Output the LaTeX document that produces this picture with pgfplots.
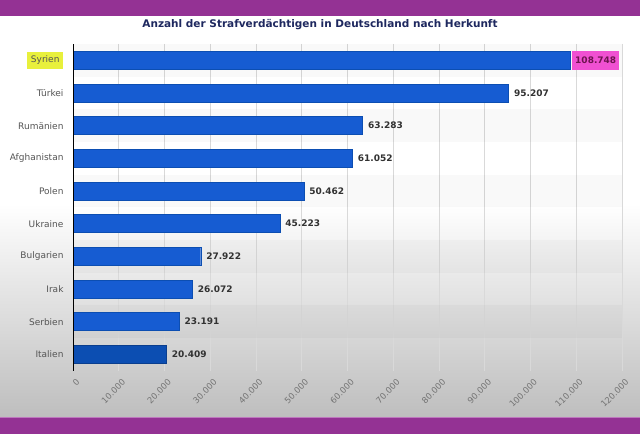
\documentclass[border=0pt]{standalone}
\usepackage{pgfplots}
\pgfplotsset{compat=1.18}
\usepackage{fontspec}
\setmainfont{DejaVu Sans}
\definecolor{purp}{RGB}{148,50,148}
\definecolor{purpl}{RGB}{190,120,190}
\definecolor{navy}{RGB}{30,40,95}
\definecolor{barblue}{RGB}{22,92,210}
\definecolor{bardark}{RGB}{12,78,178}
\definecolor{bggray}{RGB}{190,190,190}
\definecolor{hlyellow}{RGB}{232,240,60}
\definecolor{hlmag}{RGB}{240,80,210}
\definecolor{valtxt}{RGB}{50,50,50}
\definecolor{lbltxt}{RGB}{85,85,85}
\definecolor{ticktxt}{RGB}{115,115,115}
\definecolor{magtxt}{RGB}{110,20,80}
\begin{document}
\begin{tikzpicture}
\useasboundingbox (0pt,0pt) rectangle (640pt,434pt);
\fill[white] (0pt,0pt) rectangle (640pt,434pt);
\shade[top color=white, bottom color=bggray] (0pt,17pt) rectangle (640pt,230pt);
\node[font=\bfseries\fontsize{10.5}{12}\selectfont, text=navy] at (320pt,409pt) {Anzahl der Strafverdächtigen in Deutschland nach Herkunft};
\begin{axis}[
  at={(73pt,63.3pt)}, anchor=south west,
  scale only axis, width=549pt, height=326.7pt,
  xmin=0, xmax=120000, ymin=-0.5, ymax=9.5,
  y dir=reverse,
  xbar, bar width=18pt, bar shift=0pt,
  axis line style={draw=none},
  major tick length=0pt,
  xmajorgrids, grid style={draw=black!15, line width=0.6pt},
  xtick={0,10000,...,120000},
  scaled x ticks=false,
  /pgf/number format/.cd, fixed, precision=0, 1000 sep={.}, assume math mode=true,
  /pgfplots/.cd,
  xticklabel style={rotate=45, anchor=north east, font=\fontsize{8.5}{10}\selectfont, text=ticktxt, xshift=0pt, yshift=-4pt},
  ytick={0,...,9},
  yticklabels={{\setlength{\fboxsep}{4pt}\colorbox{hlyellow}{Syrien}},Türkei,Rumänien,Afghanistan,Polen,Ukraine,Bulgarien,Irak,Serbien,Italien},
  yticklabel style={font=\fontsize{9}{10}\selectfont, text=lbltxt, xshift=-6pt},
  clip=false,
  nodes near coords,
  nodes near coords style={font=\bfseries\fontsize{9}{10}\selectfont, text=valtxt, xshift=2pt},
]
\fill[black, opacity=0.025] (axis cs:0,-0.5) rectangle (axis cs:120000,0.5);
\fill[black, opacity=0.025] (axis cs:0,1.5) rectangle (axis cs:120000,2.5);
\fill[black, opacity=0.025] (axis cs:0,3.5) rectangle (axis cs:120000,4.5);
\fill[black, opacity=0.025] (axis cs:0,5.5) rectangle (axis cs:120000,6.5);
\fill[black, opacity=0.025] (axis cs:0,7.5) rectangle (axis cs:120000,8.5);
\addplot[fill=barblue, draw=bardark, line width=0.4pt,
  nodes near coords style={fill=hlmag, text=magtxt, inner xsep=3pt, inner ysep=6pt, xshift=-0.5pt}]
  coordinates {(108748,0)};
\addplot[fill=barblue, draw=bardark, line width=0.4pt]
  coordinates {(95207,1) (63283,2) (61052,3) (50462,4) (45223,5) (27922,6) (26072,7) (23191,8)};
\addplot[fill=bardark, draw=bardark!80!black, line width=0.4pt]
  coordinates {(20409,9)};
\draw[black, line width=0.8pt] (rel axis cs:0,0) -- (rel axis cs:0,1);
\end{axis}
\fill[purp] (0pt,418pt) rectangle (640pt,434pt);
\fill[purp] (0pt,0pt) rectangle (640pt,17pt);
\fill[purpl] (0pt,16pt) rectangle (640pt,17.5pt);
\end{tikzpicture}
\end{document}
